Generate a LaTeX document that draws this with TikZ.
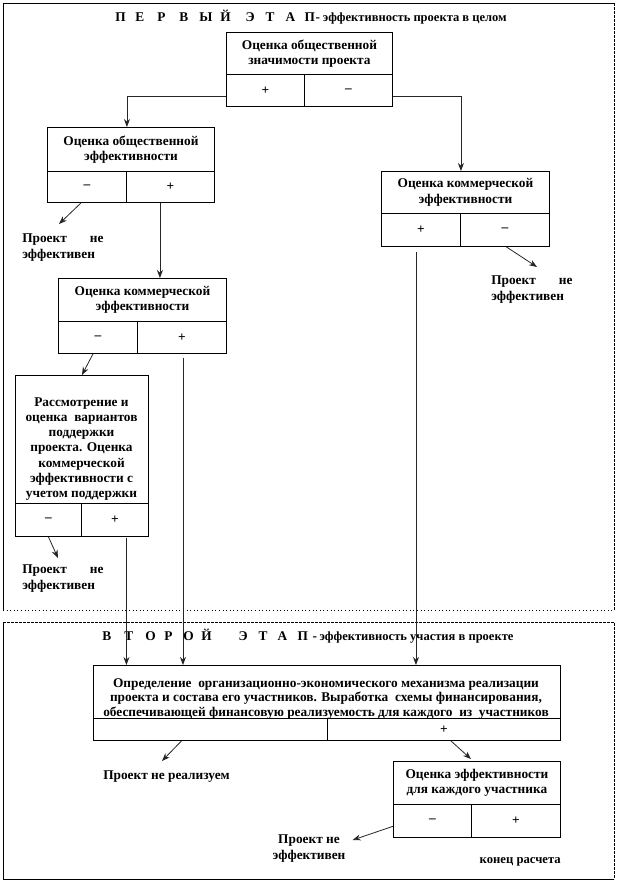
\documentclass[tikz,border=0pt]{standalone}
\usepackage{fontspec}
\setmainfont{Liberation Serif}
\usetikzlibrary{arrows.meta}
\begin{document}
\begin{tikzpicture}[x=0.75pt,y=-0.75pt,
  cell/.style={draw=black, line width=0.7pt, inner sep=0pt, align=center, font=\fontsize{10}{11.6}\selectfont\bfseries},
  wh/.style 2 args={minimum width={#1*0.75pt}, minimum height={#2*0.75pt}, anchor=north west},
  lbl/.style={inner sep=0pt, align=left, font=\fontsize{10}{12.5}\selectfont\bfseries},
  ttl/.style={inner sep=0pt, font=\fontsize{10}{12}\selectfont\bfseries},
  arr/.style={draw=black!85, line width=0.6pt, -{Stealth[length=6pt,width=4.5pt]}},
  frm/.style={line width=0.7pt}]
\useasboundingbox (0,0) rectangle (617,882);
% ---- frames
\draw[frm] (3,610) -- (3,3) -- (614,3);
\draw[frm, dash pattern=on 2pt off 1pt] (614,3) -- (614,610);
\draw[frm, dotted] (3,610) -- (614,610);
\draw[frm, dash pattern=on 2pt off 1pt] (3,622) -- (614,622) -- (614,879);
\draw[frm] (3,622) -- (3,879) -- (614,879);
% ---- titles
\node[ttl, anchor=base west] (t1) at (115,21) {\makebox[15pt][l]{П}\makebox[16.5pt][l]{Е}\makebox[16.5pt][l]{Р}\makebox[15pt][l]{В}\makebox[15.75pt][l]{Ы}\makebox[19pt][l]{Й}\makebox[15pt][l]{Э}\makebox[15pt][l]{Т}\makebox[14.25pt][l]{А}\makebox[8.25pt][l]{П}\makebox[5.5pt][l]{-}{\fontsize{9.4}{12}\selectfont эффективность проекта в целом}};
\node[ttl, anchor=base west] (t2) at (102,640) {\makebox[16.5pt][l]{В}\makebox[15.75pt][l]{Т}\makebox[14.25pt][l]{О}\makebox[14.25pt][l]{Р}\makebox[13.5pt][l]{О}\makebox[28pt][l]{Й}\makebox[15pt][l]{Э}\makebox[14.25pt][l]{Т}\makebox[15pt][l]{А}\makebox[11.25pt][l]{П}\makebox[5.25pt][l]{-}{\fontsize{9.4}{12}\selectfont эффективность участия в проекте}};
% ---- box A
\node[cell, wh={166}{42}] (A) at (226,32) {Оценка общественной\\значимости проекта};
\node[cell, wh={78}{32}] (Ap) at (226,74) {+};
\node[cell, wh={88}{32}] (Am) at (304,74) {–};
% ---- box B
\node[cell, wh={167}{44}] (B) at (47,127) {Оценка общественной\\эффективности};
\node[cell, wh={79}{31}] (Bm) at (47,171) {–};
\node[cell, wh={88}{31}] (Bp) at (126,171) {+};
% ---- box C
\node[cell, wh={168}{42}] (C) at (381,171) {Оценка коммерческой\\эффективности};
\node[cell, wh={79}{33}] (Cp) at (381,213) {+};
\node[cell, wh={89}{33}] (Cm) at (460,213) {–};
% ---- box D
\node[cell, wh={168}{43}] (D) at (58,278) {Оценка коммерческой\\эффективности};
\node[cell, wh={79}{32}] (Dm) at (58,321) {–};
\node[cell, wh={89}{32}] (Dp) at (137,321) {+};
% ---- box E
\node[cell, wh={133}{128}] (E) at (15,375) {};
\begin{scope}
\clip (15,375) rectangle (148,502);
\node[cell, draw=none, anchor=north, font=\fontsize{10}{11.4}\selectfont\bfseries] (Et) at (81.5,397) {Рассмотрение и\\оценка \ вариантов\\поддержки\\проекта. Оценка\\коммерческой\\эффективности с\\учетом поддержки};
\end{scope}
\node[cell, wh={66}{33}] (Em) at (15,503) {–};
\node[cell, wh={67}{33}] (Ep) at (81,503) {+};
% ---- box F
\node[cell, wh={467}{53}] (F) at (93,665) {};
\node[cell, draw=none, font=\fontsize{10}{10.6}\selectfont\bfseries] (Ft) at (326,699) {Определение \ организационно-экономического механизма реализации\\проекта и состава его участников. Выработка \ схемы финансирования,\\обеспечивающей финансовую реализуемость для каждого \ из \ участников};
\node[cell, wh={234}{22}] (Fl) at (93,718) {};
\node[cell, wh={233}{22}] (Fr) at (327,718) {+};
% ---- box G
\node[cell, wh={167}{43}] (G) at (393,761) {Оценка эффективности\\для каждого участника};
\node[cell, wh={78}{33}] (Gm) at (393,804) {–};
\node[cell, wh={89}{33}] (Gp) at (471,804) {+};
% ---- labels
\node[lbl, anchor=north west] (L1) at (22,233) {\hbox to 61pt{Проект\hfill не}\\эффективен};
\node[lbl, anchor=north west] (L2) at (491,275) {\hbox to 61pt{Проект\hfill не}\\эффективен};
\node[lbl, anchor=north west] (L3) at (22,564) {\hbox to 61pt{Проект\hfill не}\\эффективен};
\node[lbl, align=center, anchor=north] (L4) at (309,834) {Проект не\\эффективен};
\node[lbl, anchor=north west] (L5) at (103,770) {Проект не реализуем};
\node[lbl, anchor=east, font=\fontsize{9.5}{11}\selectfont\bfseries] (L6) at (561,862) {конец расчета};
% ---- connectors
\draw[arr] ([yshift=-4.5pt]Ap.west) -| (B.north -| Bm.east);
\draw[arr] ([yshift=-4.5pt]Am.east) -| (C.north -| Cp.east);
\draw[arr] ([xshift=-4.5pt]Bm.south) -- ([xshift=27.75pt,yshift=6.75pt]L1.north west);
\draw[arr] ([xshift=-7.9pt]Bp.south) -- ([xshift=-7.9pt]Bp.south |- D.north);
\draw[arr] ([xshift=1.1pt]Cm.south) -- ([xshift=34.5pt,yshift=6pt]L2.north west);
\draw[arr] ([xshift=-3.75pt,yshift=-4pt]Cp.south) -- ([xshift=-3.75pt]Cp.south |- F.north);
\draw[arr] ([xshift=-3.75pt]Dm.south) -- (E.north);
\draw[arr] ([xshift=0.75pt,yshift=-3pt]Dp.south) -- ([xshift=0.75pt]Dp.south |- F.north);
\draw[arr] (Em.south) -- ([xshift=27pt,yshift=4.5pt]L3.north west);
\draw[arr] ([xshift=8.6pt,yshift=-0.75pt]Ep.south) -- ([xshift=8.6pt]Ep.south |- F.north);
\draw[arr] ([xshift=-21.75pt]Fl.south) -- ([xshift=-3.4pt,yshift=6.75pt]L5.north);
\draw[arr] ([xshift=5.25pt]Fr.south) -- ([xshift=-4.5pt,yshift=1.5pt]G.north);
\draw[arr] ([yshift=-4pt]Gm.west) -- ([xshift=5.25pt,yshift=-4.5pt]L4.north east);
\end{tikzpicture}
\end{document}
